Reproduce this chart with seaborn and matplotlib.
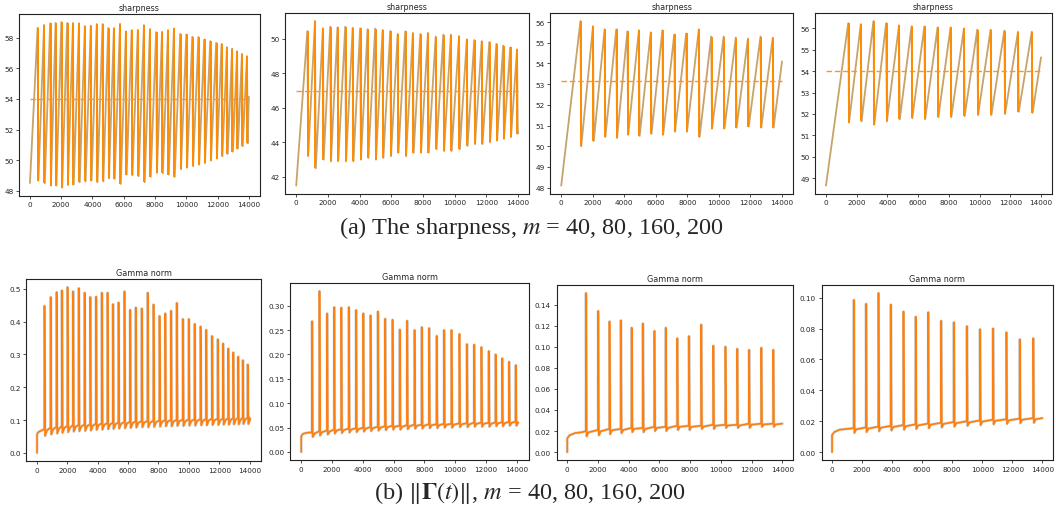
import numpy as np
import pandas as pd
import seaborn as sns
import matplotlib.pyplot as plt
from matplotlib.ticker import MultipleLocator

# ---- datos ----
# m = 40
m40_events = [490, 900, 1290, 1640, 2010, 2380, 2750, 3135, 3510, 3890, 4270, 4645, 5005,
              5370, 5760, 6135, 6505, 6900, 7290, 7675, 8070, 8450, 8830, 9210, 9610, 10000,
              10385, 10775, 11145, 11530, 11910, 12258, 12600, 12930, 13250, 13560, 13880]
m40_sharp_start, m40_sharp_end, m40_sharp_mean = 48.5, 54.15, 54.0
m40_sharp_peak = [58.66, 58.84, 58.95, 58.97, 59.03, 58.97, 58.97, 58.95, 58.77, 58.8, 58.9,
                  58.9, 58.64, 58.64, 58.92, 58.42, 58.5, 58.52, 58.83, 58.57, 58.37, 58.4,
                  58.5, 58.61, 58.26, 58.22, 58.07, 58.05, 57.89, 57.78, 57.67, 57.6, 57.39,
                  57.29, 57.12, 56.95, 56.8]
m40_sharp_trough = [48.66, 48.48, 48.33, 48.33, 48.2, 48.37, 48.4, 48.55, 48.6, 48.66, 48.55,
                    48.6, 48.8, 48.77, 48.44, 49.05, 49.0, 48.95, 48.55, 48.9, 49.16, 49.14,
                    49.05, 48.9, 49.4, 49.5, 49.6, 49.7, 49.8, 49.97, 50.1, 50.25, 50.4,
                    50.55, 50.75, 50.9, 51.1]
m40_gamma_peak = [0.448, 0.475, 0.49, 0.495, 0.505, 0.492, 0.502, 0.488, 0.475, 0.476, 0.488,
                  0.488, 0.453, 0.458, 0.492, 0.436, 0.443, 0.44, 0.488, 0.452, 0.417, 0.425,
                  0.433, 0.457, 0.408, 0.408, 0.393, 0.385, 0.375, 0.356, 0.346, 0.333, 0.318,
                  0.306, 0.293, 0.282, 0.269]
m40_gamma_base = [0.074, 0.077, 0.079, 0.081, 0.082, 0.084, 0.085, 0.086, 0.087, 0.089, 0.090,
                  0.091, 0.092, 0.093, 0.094, 0.095, 0.096, 0.097, 0.097, 0.098, 0.099, 0.100,
                  0.100, 0.101, 0.101, 0.102, 0.102, 0.103, 0.103, 0.104, 0.104, 0.105, 0.105,
                  0.106, 0.106, 0.107, 0.107]
m40_gamma_dip = [0.052, 0.056, 0.059, 0.061, 0.063, 0.065, 0.066, 0.067, 0.068, 0.070, 0.071,
                 0.072, 0.073, 0.074, 0.075, 0.076, 0.077, 0.078, 0.078, 0.079, 0.080, 0.081,
                 0.081, 0.082, 0.082, 0.083, 0.083, 0.084, 0.084, 0.085, 0.085, 0.086, 0.086,
                 0.087, 0.087, 0.088, 0.088]
m40_gamma_start_x = [0, 0, 60, 200, 400]
m40_gamma_start_y = [0.0, 0.056, 0.062, 0.066, 0.070]

# m = 80
m80_events = [705, 1185, 1685, 2145, 2605, 3095, 3565, 4035, 4505, 4985, 5455, 5935, 6405,
              6885, 7365, 7835, 8315, 8805, 9285, 9765, 10280, 10770, 11240, 11710, 12190,
              12635, 13065, 13510, 13940]
m80_sharp_start, m80_sharp_end, m80_sharp_mean = 41.5, 44.6, 47.0
m80_sharp_peak = [50.44, 51.02, 50.6, 50.69, 50.65, 50.69, 50.63, 50.6, 50.54, 50.58, 50.5,
                  50.44, 50.27, 50.42, 50.33, 50.27, 50.33, 50.12, 50.23, 50.23, 50.15, 49.96,
                  49.92, 49.85, 49.8, 49.7, 49.6, 49.5, 49.38]
m80_sharp_trough = [43.2, 42.5, 43.0, 42.9, 42.9, 42.9, 42.9, 43.0, 43.1, 43.0, 43.1, 43.2,
                    43.4, 43.2, 43.4, 43.4, 43.4, 43.6, 43.5, 43.5, 43.6, 43.8, 43.9, 43.9,
                    44.0, 44.1, 44.2, 44.3, 44.5]
m80_gamma_peak = [0.268, 0.33, 0.284, 0.297, 0.296, 0.297, 0.291, 0.284, 0.28, 0.288, 0.273,
                  0.271, 0.251, 0.269, 0.25, 0.256, 0.254, 0.238, 0.25, 0.25, 0.242, 0.221,
                  0.22, 0.215, 0.207, 0.2, 0.192, 0.185, 0.178]
m80_gamma_base = [0.040, 0.043, 0.044, 0.046, 0.047, 0.048, 0.049, 0.050, 0.051, 0.052, 0.053,
                  0.054, 0.054, 0.055, 0.056, 0.056, 0.057, 0.057, 0.058, 0.058, 0.059, 0.059,
                  0.060, 0.060, 0.060, 0.061, 0.061, 0.062, 0.062]
m80_gamma_dip = [0.031, 0.034, 0.036, 0.038, 0.039, 0.040, 0.041, 0.042, 0.043, 0.044, 0.045,
                 0.046, 0.046, 0.047, 0.048, 0.048, 0.049, 0.049, 0.050, 0.050, 0.051, 0.051,
                 0.052, 0.052, 0.052, 0.053, 0.053, 0.054, 0.054]
m80_gamma_start_x = [0, 0, 100, 300, 550]
m80_gamma_start_y = [0.0, 0.032, 0.037, 0.039, 0.040]

# m = 160
m160_events = [1220, 2015, 2750, 3490, 4195, 4925, 5675, 6415, 7165, 7925, 8725, 9510, 10300,
               11070, 11840, 12635, 13415]
m160_sharp_start, m160_sharp_end, m160_sharp_mean = 48.1, 54.1, 53.15
m160_sharp_peak = [56.05, 55.8, 55.65, 55.65, 55.55, 55.6, 55.5, 55.6, 55.4, 55.45, 55.65,
                   55.3, 55.3, 55.25, 55.2, 55.3, 55.25]
m160_sharp_trough = [50.0, 50.25, 50.45, 50.4, 50.55, 50.5, 50.6, 50.55, 50.7, 50.7, 50.45,
                     50.85, 50.85, 50.9, 50.95, 50.9, 50.9]
m160_gamma_peak = [0.151, 0.134, 0.124, 0.125, 0.118, 0.122, 0.115, 0.118, 0.108, 0.110, 0.121,
                   0.101, 0.100, 0.098, 0.097, 0.099, 0.097]
m160_gamma_base = [0.020, 0.021, 0.022, 0.022, 0.023, 0.023, 0.024, 0.024, 0.025, 0.025, 0.025,
                   0.026, 0.026, 0.026, 0.027, 0.027, 0.027]
m160_gamma_dip = [0.015, 0.016, 0.017, 0.018, 0.019, 0.019, 0.020, 0.020, 0.021, 0.021, 0.022,
                  0.022, 0.023, 0.023, 0.023, 0.024, 0.024]
m160_gamma_start_x = [0, 0, 150, 500, 1000]
m160_gamma_start_y = [0.0, 0.013, 0.016, 0.018, 0.019]

# m = 200
m200_events = [1450, 2265, 3090, 3915, 4755, 5570, 6405, 7265, 8110, 8980, 9850, 10720, 11610,
               12500, 13400]
m200_sharp_start, m200_sharp_end, m200_sharp_mean = 48.65, 54.65, 54.0
m200_sharp_peak = [56.25, 56.2, 56.35, 56.25, 56.15, 56.1, 56.1, 56.05, 56.05, 56.0, 55.95,
                   55.95, 55.9, 55.85, 55.85]
m200_sharp_trough = [51.6, 51.65, 51.5, 51.65, 51.75, 51.8, 51.75, 51.85, 51.85, 51.9, 51.95,
                     51.95, 52.0, 52.1, 52.05]
m200_gamma_peak = [0.0985, 0.096, 0.103, 0.0955, 0.091, 0.0877, 0.0905, 0.085, 0.084, 0.0815,
                   0.0795, 0.080, 0.0775, 0.073, 0.0737]
m200_gamma_base = [0.0155, 0.016, 0.0165, 0.017, 0.0175, 0.018, 0.0185, 0.019, 0.0195, 0.020,
                   0.0205, 0.021, 0.0213, 0.0217, 0.022]
m200_gamma_dip = [0.0125, 0.013, 0.0135, 0.014, 0.0145, 0.015, 0.0155, 0.016, 0.0165, 0.017,
                  0.0175, 0.018, 0.0183, 0.0187, 0.019]
m200_gamma_start_x = [0, 0, 150, 500, 1000]
m200_gamma_start_y = [0.0, 0.011, 0.013, 0.0145, 0.015]

n_steps = 14000

panels = [
    (m40_events, m40_sharp_start, m40_sharp_end, m40_sharp_mean, m40_sharp_peak, m40_sharp_trough,
     m40_gamma_peak, m40_gamma_base, m40_gamma_dip, m40_gamma_start_x, m40_gamma_start_y),
    (m80_events, m80_sharp_start, m80_sharp_end, m80_sharp_mean, m80_sharp_peak, m80_sharp_trough,
     m80_gamma_peak, m80_gamma_base, m80_gamma_dip, m80_gamma_start_x, m80_gamma_start_y),
    (m160_events, m160_sharp_start, m160_sharp_end, m160_sharp_mean, m160_sharp_peak, m160_sharp_trough,
     m160_gamma_peak, m160_gamma_base, m160_gamma_dip, m160_gamma_start_x, m160_gamma_start_y),
    (m200_events, m200_sharp_start, m200_sharp_end, m200_sharp_mean, m200_sharp_peak, m200_sharp_trough,
     m200_gamma_peak, m200_gamma_base, m200_gamma_dip, m200_gamma_start_x, m200_gamma_start_y),
]

top_ticks = [2, 2, 1, 1]
bot_ticks = [0.1, 0.05, 0.02, 0.02]

# posiciones de los ejes (fracciones de la figura)
top_pos = [[0.018, 0.614, 0.228, 0.357], [0.270, 0.618, 0.231, 0.355],
           [0.521, 0.618, 0.230, 0.355], [0.772, 0.618, 0.224, 0.355]]
bot_pos = [[0.025, 0.094, 0.222, 0.357], [0.275, 0.096, 0.226, 0.347],
           [0.527, 0.096, 0.224, 0.343], [0.778, 0.096, 0.219, 0.343]]

sns.set_style("ticks")
plt.rcParams['font.family'] = ['DejaVu Sans']
plt.rcParams['mathtext.fontset'] = 'stix'

fig = plt.figure(figsize=(10.56, 5.10), dpi=100)

drop = 50      # ancho de la caida del diente de sierra
recover = 160  # recuperacion tras el pico de gamma


def sharp_frame(ev, start, end, peak, trough):
    xs, ys = [0], [start]
    for x, p, t in zip(ev, peak, trough):
        xs += [x, x + drop]
        ys += [p, t]
    xs.append(n_steps)
    ys.append(end)
    return pd.DataFrame({'step': xs, 'value': ys})


def gamma_frame(ev, peak, base, dip, sx, sy):
    xs, ys = list(sx), list(sy)
    for x, p, b, d in zip(ev, peak, base, dip):
        xs += [x - 10, x, x + 40, x + recover]
        ys += [b, p, d, b - 0.25 * (b - d)]
    xs.append(n_steps)
    ys.append(base[-1])
    return pd.DataFrame({'step': xs, 'value': ys})


def style_ax(ax, title, step):
    ax.set_title(title, fontsize=5.8, pad=3)
    ax.set_xlabel('')
    ax.set_ylabel('')
    ax.xaxis.set_major_locator(MultipleLocator(2000))
    ax.yaxis.set_major_locator(MultipleLocator(step))
    ax.tick_params(labelsize=5.2, length=2.5, width=0.6, pad=1.5, color='#333333')
    for s in ax.spines.values():
        s.set_linewidth(0.8)
        s.set_color('#222222')


for i, (ev, s0, s1, smean, speak, strough, gpeak, gbase, gdip, gsx, gsy) in enumerate(panels):
    # sharpness
    ax = fig.add_axes(top_pos[i])
    df_s = sharp_frame(ev, s0, s1, speak, strough)
    sns.lineplot(data=df_s, x='step', y='value', sort=False, estimator=None,
                 color='#c9a26a', lw=1.3, ax=ax)
    ax.vlines([x + drop / 2 for x in ev], strough, speak, color='darkorange', lw=1.4)
    ax.plot([0, n_steps], [smean, smean], ls='--', color='#ff9426', lw=1.0, dashes=(4, 2))
    style_ax(ax, 'sharpness', top_ticks[i])

    # gamma norm
    ax = fig.add_axes(bot_pos[i])
    df_g = gamma_frame(ev, gpeak, gbase, gdip, gsx, gsy)
    sns.lineplot(data=df_g, x='step', y='value', sort=False, estimator=None,
                 color='#b8b8b8', lw=2.0, alpha=0.6, ax=ax)
    sns.lineplot(data=df_g, x='step', y='value', sort=False, estimator=None,
                 color='#ff7f0e', lw=1.2, ax=ax)
    style_ax(ax, 'Gamma norm', bot_ticks[i])
    ax.yaxis.set_major_formatter(plt.FormatStrFormatter('%.2f' if i else '%.1f'))

fig.text(0.503, 0.553, r'(a) The sharpness, $m$ = 40, 80, 160, 200',
         ha='center', va='center', fontsize=17.5, family='Liberation Serif')
fig.text(0.502, 0.034, r'(b) $\|\mathbf{\Gamma}(t)\|$, $m$ = 40, 80, 160, 200',
         ha='center', va='center', fontsize=17.5, family='Liberation Serif')

fig.savefig('out.png', dpi=100)
